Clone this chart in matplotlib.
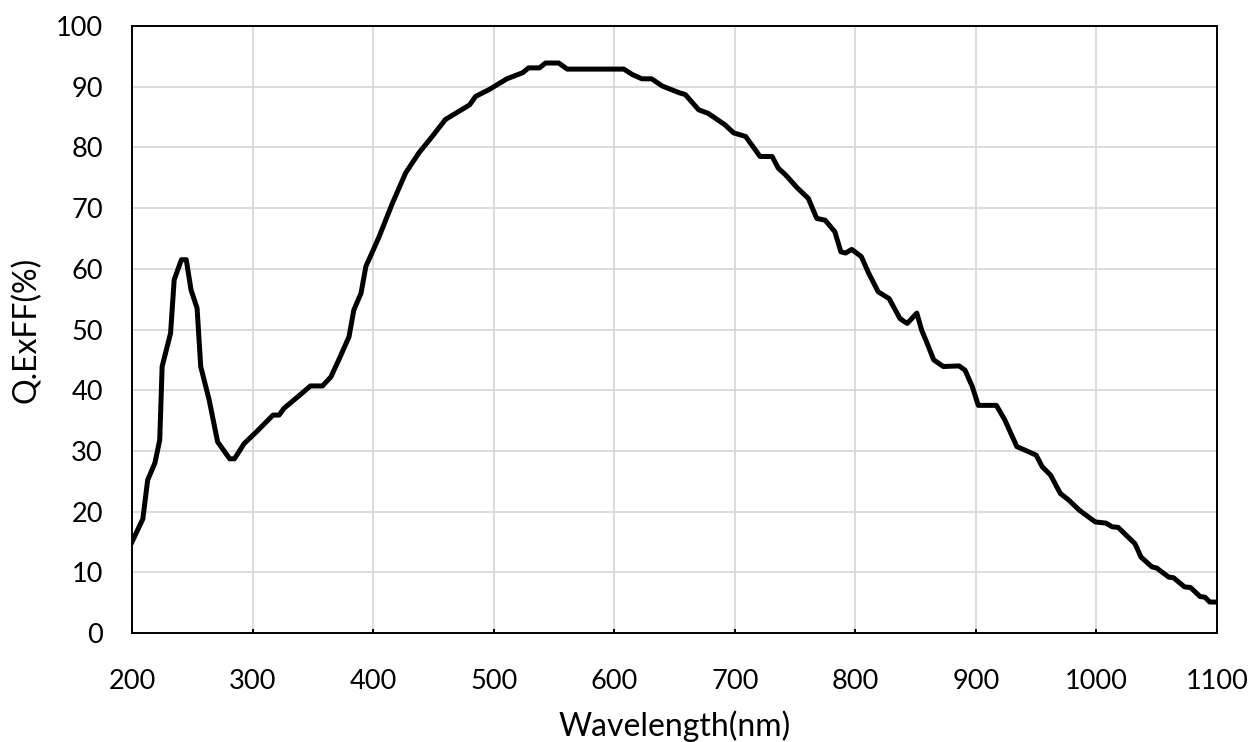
import matplotlib.pyplot as plt

# wavelength (nm) and quantum efficiency x fill factor (%)
wavelength = [200, 209, 213, 219, 223, 225, 232, 235, 241, 245, 249, 254, 257,
              264, 271, 281, 285, 293, 303, 317, 322, 326, 341, 348, 358, 365,
              372, 380, 384, 390, 394, 399, 405, 416, 427, 438, 449, 460, 480,
              485, 496, 511, 524, 529, 538, 543, 554, 561, 608, 615, 623, 631,
              640, 654, 659, 670, 678, 692, 699, 709, 721, 731, 736, 742, 752,
              761, 768, 775, 783, 788, 792, 797, 805, 811, 819, 828, 837, 843,
              851, 855, 859, 865, 873, 886, 891, 897, 902, 917, 924, 934, 941,
              950, 955, 962, 970, 977, 986, 999, 1008, 1013, 1018, 1032, 1037,
              1046, 1050, 1060, 1064, 1073, 1078, 1086, 1090, 1094, 1100]
qe = [15.0, 18.8, 25.2, 28.0, 31.8, 43.9, 49.4, 58.2, 61.5, 61.5, 56.5, 53.5, 43.9,
      38.4, 31.5, 28.7, 28.7, 31.2, 33.1, 35.9, 35.9, 37.0, 39.5, 40.7, 40.7, 42.2,
      45.2, 48.8, 53.2, 56.0, 60.4, 62.6, 65.3, 70.8, 75.8, 79.1, 81.8, 84.6, 87.0,
      88.4, 89.5, 91.3, 92.3, 93.1, 93.1, 93.9, 93.9, 92.9, 92.9, 92.0, 91.3, 91.3,
      90.1, 89.0, 88.7, 86.2, 85.6, 83.7, 82.4, 81.8, 78.5, 78.5, 76.6, 75.5, 73.3,
      71.6, 68.3, 68.0, 66.1, 62.8, 62.6, 63.2, 62.0, 59.3, 56.2, 55.1, 51.8, 51.0,
      52.7, 49.9, 48.0, 45.0, 43.9, 44.0, 43.3, 40.6, 37.5, 37.5, 35.1, 30.7, 30.1,
      29.3, 27.4, 26.0, 23.0, 21.9, 20.2, 18.3, 18.1, 17.5, 17.4, 14.7, 12.5,
      10.9, 10.7, 9.2, 9.1, 7.6, 7.5, 6.0, 5.9, 5.1, 5.1]

plt.rcParams['font.family'] = ['Lato', 'DejaVu Sans']

fig = plt.figure(figsize=(12.53, 7.42), dpi=100)
ax = fig.add_axes([132 / 1253, 1 - 633 / 742, (1217 - 132) / 1253, (633 - 26) / 742])

ax.plot(wavelength, qe, color='black', linewidth=3.6, solid_joinstyle='round', zorder=3)

ax.set_xlim(200, 1100)
ax.set_ylim(0, 100)
ax.set_xticks(range(200, 1101, 100))
ax.set_yticks(range(0, 101, 10))
ax.grid(True, color='#d9d9d9', linewidth=1.3)
ax.set_axisbelow(True)

for s in ax.spines.values():
    s.set_color('black')
    s.set_linewidth(1.4)

ax.tick_params(axis='x', direction='in', length=3, width=1.4, pad=26, labelsize=19.5)
ax.tick_params(axis='y', length=0, pad=21, labelsize=19.5)

ax.set_xlabel('Wavelength(nm)', fontsize=23, va='center')
ax.set_ylabel('Q.ExFF(%)', fontsize=23, va='center')
ax.xaxis.set_label_coords(0.5, -0.153)
ax.yaxis.set_label_coords(-0.097, 0.5)

fig.savefig('out.png', dpi=100)
